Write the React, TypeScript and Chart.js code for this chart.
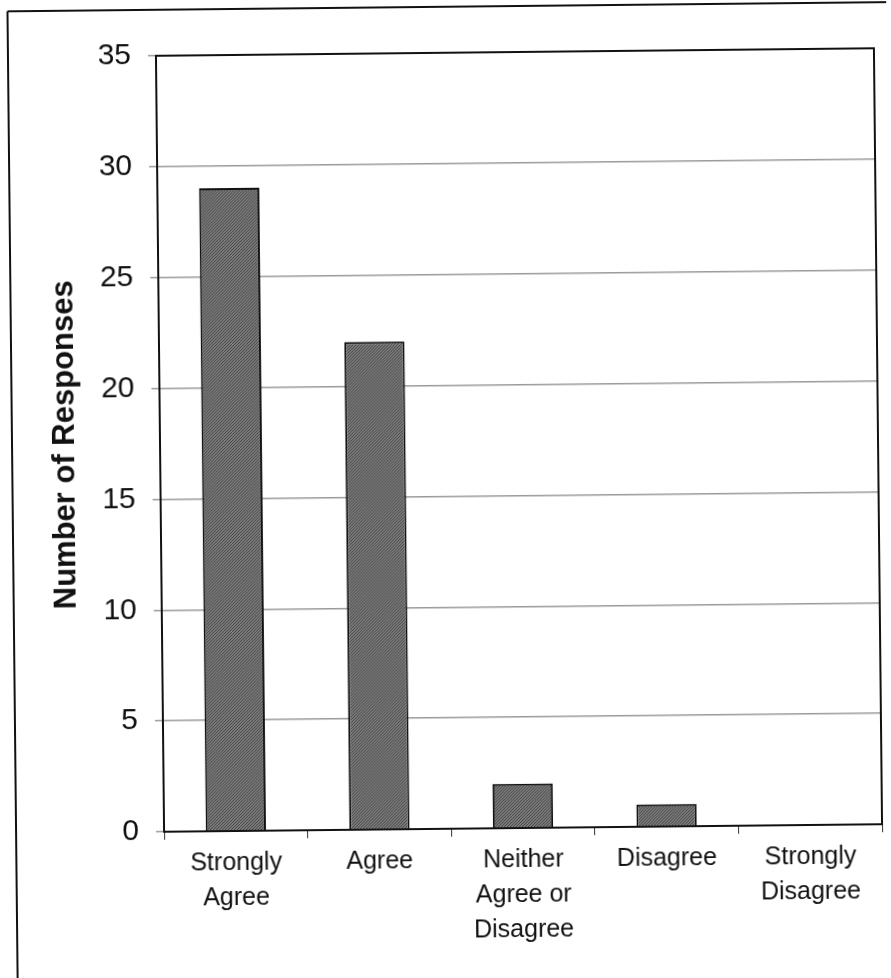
import React, { useEffect, useRef } from "react";
import { Chart, registerables } from "chart.js";

Chart.register(...registerables);

const categories: string[][] = [
  ["Strongly", "Agree"],
  ["Agree"],
  ["Neither", "Agree or", "Disagree"],
  ["Disagree"],
  ["Strongly", "Disagree"],
];
const responses: number[] = [29, 22, 2, 1, 0];
const yTickMax = 35;
const yTickStep = 5;
const yTitle = "Number of Responses";

const frame = {
  id: "frame",
  beforeDraw(chart: any) {
    const ctx = chart.ctx;
    ctx.save();
    ctx.fillStyle = "#ffffff";
    ctx.fillRect(0, 0, chart.width, chart.height);
    ctx.strokeStyle = "#111";
    ctx.lineWidth = 2;
    ctx.beginPath();
    ctx.moveTo(12, 6);
    ctx.lineTo(chart.width, 6);
    ctx.moveTo(12, 6);
    ctx.lineTo(12, chart.height);
    ctx.stroke();
    ctx.restore();
  },
  afterDatasetsDraw(chart: any) {
    const { ctx, chartArea } = chart;
    ctx.save();
    ctx.strokeStyle = "#111";
    ctx.lineWidth = 2;
    ctx.beginPath();
    ctx.moveTo(chartArea.left, chartArea.top);
    ctx.lineTo(chartArea.right, chartArea.top);
    ctx.lineTo(chartArea.right, chartArea.bottom);
    ctx.stroke();
    ctx.restore();
  },
};

function makePattern(): CanvasPattern | string {
  const c = document.createElement("canvas");
  c.width = 3;
  c.height = 3;
  const g = c.getContext("2d");
  if (!g) return "#666";
  g.fillStyle = "#7c7c7c";
  g.fillRect(0, 0, 3, 3);
  g.fillStyle = "#444";
  g.fillRect(0, 0, 1, 1);
  g.fillRect(1, 2, 1, 1);
  g.fillRect(2, 1, 1, 1);
  const p = g.createPattern(c, "repeat");
  return p || "#666";
}

export default function App() {
  const ref = useRef<HTMLCanvasElement>(null);
  useEffect(() => {
    if (!ref.current) return;
    const chart = new Chart(ref.current, {
      type: "bar",
      data: {
        labels: categories,
        datasets: [
          {
            data: responses,
            backgroundColor: makePattern() as any,
            borderColor: "#111",
            borderWidth: 2,
            barPercentage: 0.42,
            categoryPercentage: 1,
          },
        ],
      },
      plugins: [frame],
      options: {
        responsive: false,
        animation: false,
        layout: { padding: { top: 52, right: 13, left: 0, bottom: 0 } },
        plugins: { legend: { display: false }, tooltip: { enabled: false } },
        scales: {
          x: {
            afterFit(scale: any) {
              scale.height = 150;
            },
            grid: {
              display: true,
              drawOnChartArea: false,
              drawTicks: true,
              tickLength: 8,
              offset: true,
              color: "#333",
            },
            border: { color: "#111", width: 2 },
            ticks: {
              color: "#111",
              padding: 7,
              maxRotation: 0,
              autoSkip: false,
              font: { family: "Liberation Sans, Arial, sans-serif", size: 25, lineHeight: 1.4 },
            },
          },
          y: {
            min: 0,
            max: yTickMax,
            afterFit(scale: any) {
              scale.width = 160;
            },
            grid: { color: "#9a9a9a", lineWidth: 1.5, tickLength: 8, drawTicks: true },
            border: { color: "#111", width: 2 },
            ticks: {
              stepSize: yTickStep,
              color: "#111",
              padding: 17,
              font: { family: "Liberation Sans, Arial, sans-serif", size: 30 },
            },
            title: {
              display: true,
              text: yTitle,
              color: "#111",
              padding: { top: 47, bottom: 0 },
              font: { family: "Liberation Sans, Arial, sans-serif", size: 31, weight: "bold" },
            },
          },
        },
      },
    });
    return () => chart.destroy();
  }, []);
  return (
    <div style={{ position: "absolute", left: 0, top: 0, width: 891, height: 978, background: "#fff", overflow: "hidden" }}>
      <canvas
        ref={ref}
        width={891}
        height={978}
        style={{ display: "block", transform: "rotate(-0.6deg)", transformOrigin: "520px 440px" }}
      />
    </div>
  );
}
